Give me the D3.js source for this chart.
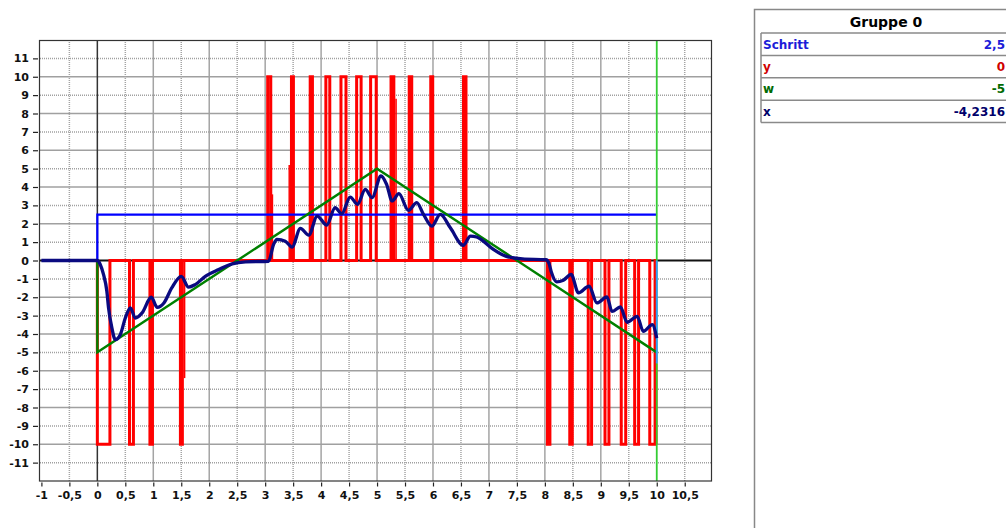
<!DOCTYPE html>
<html>
<head>
<meta charset="utf-8">
<script src="https://cdn.jsdelivr.net/npm/d3@7"></script>
<style>
  body { margin: 0; background: #fff; }
  svg { display: block; }
  text { font-family: "DejaVu Sans", Arial, sans-serif; font-weight: bold; }
</style>
</head>
<body>
<svg id="chart" width="1006" height="528"></svg>
<script>
'use strict';

// tick labels
var xTickValues = [-1, -0.5, 0, 0.5, 1, 1.5, 2, 2.5, 3, 3.5, 4, 4.5, 5, 5.5, 6, 6.5, 7, 7.5, 8, 8.5, 9, 9.5, 10, 10.5];
var yTickValues = [-11, -10, -9, -8, -7, -6, -5, -4, -3, -2, -1, 0, 1, 2, 3, 4, 5, 6, 7, 8, 9, 10, 11];

// Schritt (blue step)
var schritt = [[0, 0], [0, 2.5], [10, 2.5]];

// w (green setpoint)
var wLine = [[0, 0], [0, -5], [5, 5], [10, -5]];

// y (red switching output): pulses [start, end, level]
var yPulses = [
  [0, 0.225, -10], [0.575, 0.645, -10], [0.94, 0.985, -10], [1.485, 1.52, -10],
  [3.045, 3.10, 10], [3.47, 3.505, 10], [3.805, 3.845, 10], [4.085, 4.155, 10],
  [4.355, 4.445, 10], [4.635, 4.715, 10], [4.885, 4.985, 10], [5.25, 5.30, 10],
  [5.575, 5.62, 10], [5.96, 5.995, 10], [6.545, 6.59, 10],
  [8.045, 8.09, -10], [8.445, 8.49, -10], [8.775, 8.835, -10], [9.075, 9.145, -10],
  [9.365, 9.445, -10], [9.605, 9.675, -10], [9.875, 9.97, -10]
];
// short partial edges of y: [t, from, to]
var ySpikes = [[3.13, 0, 3.6], [1.56, 0, -6.4], [3.43, 0, 5.2], [5.34, 0, 8.8], [10, -10, -5.6]];

// x (navy response)
var xResponse = [
  [-1, 0], [0, 0], [0.05, -0.2], [0.11, -0.76], [0.17, -1.67], [0.20, -2.58], [0.26, -3.67],
  [0.32, -4.31], [0.41, -4.04], [0.50, -3.13], [0.59, -2.58], [0.68, -3.13], [0.80, -2.85],
  [0.965, -2.0], [1.07, -2.55], [1.19, -2.31], [1.33, -1.49], [1.50, -0.86], [1.63, -1.45],
  [1.75, -1.31], [1.93, -0.86], [2.17, -0.49], [2.41, -0.18], [2.65, -0.07], [3.06, -0.04],
  [3.15, 0.87], [3.21, 1.15], [3.36, 1.05], [3.48, 0.73], [3.63, 1.75], [3.78, 1.38],
  [3.93, 2.42], [4.10, 1.93], [4.25, 2.87], [4.37, 2.55], [4.52, 3.45], [4.65, 3.06],
  [4.79, 3.87], [4.91, 3.42], [5.07, 4.6], [5.17, 4.15], [5.27, 3.24], [5.39, 3.64],
  [5.56, 2.73], [5.71, 3.15], [5.83, 2.51], [5.98, 1.87], [6.13, 2.51], [6.31, 1.78],
  [6.54, 0.83], [6.67, 1.33], [6.78, 1.28], [6.88, 1.1], [7.08, 0.6], [7.3, 0.24],
  [7.6, 0.09], [8.02, 0.04], [8.07, -0.13], [8.12, -0.67], [8.21, -1.16], [8.33, -1.07],
  [8.47, -0.76], [8.60, -1.76], [8.79, -1.40], [8.93, -2.31], [9.11, -1.98], [9.20, -2.77],
  [9.35, -2.53], [9.47, -3.36], [9.65, -3.04], [9.76, -3.86], [9.92, -3.49], [10.0, -4.23]
];

var cursorAt = 10;

// side table
var tableTitle = "Gruppe 0";
var tableNames = ["Schritt", "y", "w", "x"];
var tableValues = ["2,5", "0", "-5", "-4,2316"];
var tableColors = ["#1c1cd8", "#d00000", "#006a00", "#00006a"];

var svg = d3.select("#chart");

var x = d3.scaleLinear().domain([-1, 11]).range([41.4, 712.7]);
var y = d3.scaleLinear().domain([-12, 12]).range([481, 40]);

var comma = d3.formatLocale({decimal: ",", thousands: ".", grouping: [3], currency: ["", ""], minus: "-"}).format("~g");

var plot = svg.append("g");

// grid
plot.selectAll(".vgrid").data(xTickValues.filter(function(d) { return d > -1 && d !== 0 && d !== cursorAt; }))
  .enter().append("line")
    .attr("x1", function(d) { return x(d); })
    .attr("x2", function(d) { return x(d); })
    .attr("y1", y(12)).attr("y2", y(-12))
    .attr("stroke", "#a4a4a4")
    .attr("stroke-width", 1.5)
    .attr("stroke-dasharray", function(d) { return d % 1 === 0 ? null : "1,1"; });

plot.selectAll(".hgrid").data(yTickValues.filter(function(d) { return d !== 0; }))
  .enter().append("line")
    .attr("x1", 40).attr("x2", 711.5)
    .attr("y1", function(d) { return y(d); })
    .attr("y2", function(d) { return y(d); })
    .attr("stroke", "#a0a0a0")
    .attr("stroke-width", 1.5)
    .attr("stroke-dasharray", function(d) { return Math.abs(d) % 2 === 0 ? null : "1,1"; });

// zero axes
plot.append("line").attr("x1", 40).attr("x2", 711.5).attr("y1", y(0)).attr("y2", y(0))
  .attr("stroke", "#111").attr("stroke-width", 2);
plot.append("line").attr("x1", x(0)).attr("x2", x(0)).attr("y1", y(12)).attr("y2", y(-12))
  .attr("stroke", "#333").attr("stroke-width", 1.5);

// frame
svg.append("rect").attr("x", 39.5).attr("y", 40.5).attr("width", 672).attr("height", 440.5)
  .attr("fill", "none").attr("stroke", "#333").attr("stroke-width", 1.2);

// axes
var yAxis = d3.axisLeft(y).tickValues(yTickValues).tickSize(5).tickPadding(4)
  .tickFormat(function(d) { return comma(d); });
var gy = svg.append("g").attr("transform", "translate(38,0)").call(yAxis);
gy.select(".domain").remove();
gy.selectAll("line").attr("stroke", "#222").attr("stroke-width", 1.2);
gy.selectAll("text").attr("font-size", 11).attr("font-family", "DejaVu Sans, Arial, sans-serif")
  .attr("font-weight", "bold").attr("fill", "#111");

var xAxis = d3.axisBottom(x).tickValues(xTickValues).tickSize(4).tickPadding(5)
  .tickFormat(function(d) { return comma(d); });
var gx = svg.append("g").attr("transform", "translate(0,482.5)").call(xAxis);
gx.select(".domain").remove();
gx.selectAll("line").attr("stroke", "#222").attr("stroke-width", 1.2);
gx.selectAll("text").attr("font-size", 11).attr("font-family", "DejaVu Sans, Arial, sans-serif")
  .attr("font-weight", "bold").attr("fill", "#111");

var line = d3.line()
  .x(function(d) { return x(d[0]); })
  .y(function(d) { return y(d[1]); });

// y: red pulses
var redPts = [[0, 0]];
yPulses.forEach(function(p) {
  redPts.push([p[0], 0], [p[0], p[2]], [p[1], p[2]], [p[1], 0]);
});
redPts.push([cursorAt, 0]);
plot.append("path").datum(redPts).attr("d", line)
  .attr("fill", "none").attr("stroke", "#ff0000").attr("stroke-width", 3)
  .attr("stroke-linejoin", "miter");
plot.selectAll(".spike").data(ySpikes).enter().append("line")
  .attr("x1", function(d) { return x(d[0]); })
  .attr("x2", function(d) { return x(d[0]); })
  .attr("y1", function(d) { return y(d[1]); })
  .attr("y2", function(d) { return y(d[2]); })
  .attr("stroke", "#ff0000").attr("stroke-width", 1.5);

// Schritt
plot.append("path").datum(schritt).attr("d", line)
  .attr("fill", "none").attr("stroke", "#0000ff").attr("stroke-width", 2.2);

// w
plot.append("path").datum(wLine).attr("d", line)
  .attr("fill", "none").attr("stroke", "#008000").attr("stroke-width", 2.4);

// cursor
plot.append("line").attr("x1", x(cursorAt)).attr("x2", x(cursorAt))
  .attr("y1", y(12)).attr("y2", y(-12))
  .attr("stroke", "#33cc33").attr("stroke-width", 1.8);
plot.append("line").attr("x1", x(cursorAt)).attr("x2", x(cursorAt))
  .attr("y1", y(0)).attr("y2", y(-5.6))
  .attr("stroke", "#3399ff").attr("stroke-width", 1.8);

// x response
plot.append("path").datum(xResponse)
  .attr("d", line.curve(d3.curveMonotoneX))
  .attr("fill", "none").attr("stroke", "#0a0a80").attr("stroke-width", 3.3)
  .attr("stroke-linejoin", "round");

// side panel
var panel = svg.append("g");
panel.append("rect").attr("x", 754.5).attr("y", 9.5).attr("width", 260).attr("height", 530)
  .attr("fill", "#fff").attr("stroke", "#888").attr("stroke-width", 1.5);
panel.append("text").attr("x", 886).attr("y", 27).attr("text-anchor", "middle")
  .attr("font-size", 14).text(tableTitle);

var rowTop = 33, rowH = 22.4;
panel.selectAll(".sep").data(d3.range(tableNames.length + 1)).enter().append("line")
  .attr("x1", 761).attr("x2", 1006)
  .attr("y1", function(i) { return rowTop + i * rowH; })
  .attr("y2", function(i) { return rowTop + i * rowH; })
  .attr("stroke", "#8a8a8a").attr("stroke-width", 1.5);
panel.append("line").attr("x1", 761).attr("x2", 761).attr("y1", rowTop).attr("y2", rowTop + rowH * tableNames.length)
  .attr("stroke", "#8a8a8a").attr("stroke-width", 1.5);

panel.selectAll(".name").data(tableNames).enter().append("text")
  .attr("x", 763)
  .attr("y", function(d, i) { return rowTop + i * rowH + 15.5; })
  .attr("font-size", 12)
  .attr("fill", function(d, i) { return tableColors[i]; })
  .text(function(d) { return d; });
panel.selectAll(".val").data(tableValues).enter().append("text")
  .attr("x", 1005)
  .attr("y", function(d, i) { return rowTop + i * rowH + 15.5; })
  .attr("text-anchor", "end")
  .attr("font-size", 12)
  .attr("fill", function(d, i) { return tableColors[i]; })
  .text(function(d) { return d; });
</script>
</body>
</html>
